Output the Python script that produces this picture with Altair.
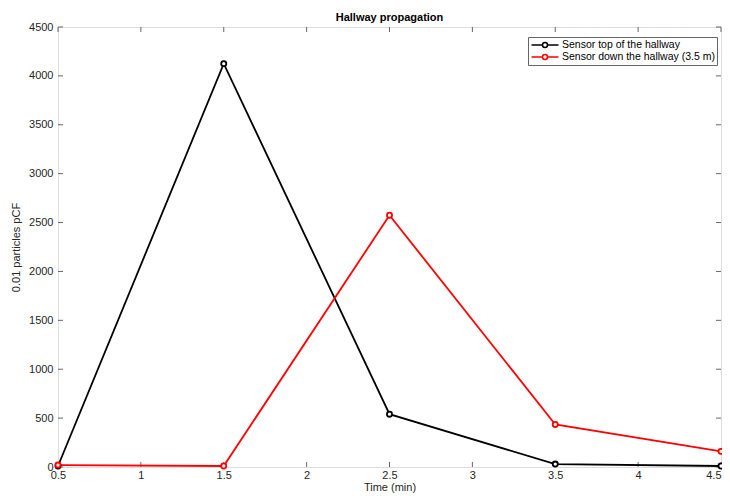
import altair as alt
import pandas as pd

# ---- data ----
times = [0.5, 1.5, 2.5, 3.5, 4.5]
top_sensor = [10, 4125, 540, 30, 10]
down_sensor = [20, 10, 2575, 435, 160]
series_names = ["Sensor top of the hallway", "Sensor down the hallway (3.5 m)"]
series_colors = ["#000000", "#ff0000"]
x_ticks = [0.5, 1, 1.5, 2, 2.5, 3, 3.5, 4, 4.5]
y_ticks = [0, 500, 1000, 1500, 2000, 2500, 3000, 3500, 4000, 4500]

df = pd.DataFrame({
    "time": times + times,
    "value": top_sensor + down_sensor,
    "series": [series_names[0]] * len(times) + [series_names[1]] * len(times),
})
xt = pd.DataFrame({"t": x_ticks})
yt = pd.DataFrame({"v": y_ticks})

W, H = 663, 440
FONT = "Liberation Sans"
FRAME = "#666666"
TICK = 5

xs = alt.Scale(domain=[0.5, 4.5], nice=False, zero=False)
ys = alt.Scale(domain=[0, 4500], nice=False, zero=True)

x_axis = alt.Axis(values=x_ticks, title="Time (min)", ticks=False, domain=False,
                  labelFontSize=11, titleFontSize=11, labelPadding=2, titlePadding=1,
                  titleFontWeight="normal", labelColor="#262626", titleColor="#262626",
                  grid=False, labelFlush=False, format="~g",
                  labelAlign={"condition": {"test": "datum.value == 4.5", "value": "right"},
                              "value": "center"})
y_axis = alt.Axis(values=y_ticks, title="0.01 particles pCF", ticks=False, domain=False,
                  labelFontSize=11, titleFontSize=11, labelPadding=5, titlePadding=7,
                  titleFontWeight="normal", labelColor="#262626", titleColor="#262626",
                  grid=False, format="d")

legend_path = ("M-2.7,0H-0.5 M0.5,0H2.7 "
               "M0.5,0A0.5,0.5 0 1,1 -0.5,0A0.5,0.5 0 1,1 0.5,0")

color = alt.Color("series:N",
                  scale=alt.Scale(domain=series_names, range=series_colors),
                  sort=series_names,
                  legend=alt.Legend(title=None, orient="none", legendX=470, legendY=10,
                                    symbolType=legend_path, symbolSize=100,
                                    symbolStrokeWidth=1.5, symbolFillColor="white",
                                    symbolOffset=9, labelOffset=11,
                                    labelFontSize=10.5, labelFont=FONT, labelColor="#000000",
                                    strokeColor=FRAME, fillColor="white",
                                    padding=2, rowPadding=0, labelLimit=300))

base = alt.Chart(df).encode(
    x=alt.X("time:Q", scale=xs, axis=x_axis),
    y=alt.Y("value:Q", scale=ys, axis=y_axis),
)

lines = base.mark_line(strokeWidth=1.8).encode(color=color)
points = base.mark_point(filled=False, size=26, strokeWidth=1.8, opacity=1).encode(
    color=alt.Color("series:N", scale=alt.Scale(domain=series_names, range=series_colors),
                    legend=None),
    fill=alt.value("white"))

xtick_bot = alt.Chart(xt).mark_rule(color=FRAME, strokeWidth=1).encode(
    x=alt.X("t:Q", scale=xs), y=alt.value(H), y2=alt.value(H - TICK))
xtick_top = alt.Chart(xt).mark_rule(color=FRAME, strokeWidth=1).encode(
    x=alt.X("t:Q", scale=xs), y=alt.value(0), y2=alt.value(TICK))
ytick_left = alt.Chart(yt).mark_rule(color=FRAME, strokeWidth=1).encode(
    y=alt.Y("v:Q", scale=ys), x=alt.value(0), x2=alt.value(TICK))
ytick_right = alt.Chart(yt).mark_rule(color=FRAME, strokeWidth=1).encode(
    y=alt.Y("v:Q", scale=ys), x=alt.value(W - TICK), x2=alt.value(W))

chart = alt.layer(xtick_bot, xtick_top, ytick_left, ytick_right, lines, points).properties(
    width=W, height=H,
    title=alt.Title("Hallway propagation", fontSize=11, fontWeight="bold", font=FONT,
                    color="#000000", offset=-1.5),
    autosize=alt.AutoSizeParams(type="none"),
    padding={"left": 50, "top": 19, "right": 1, "bottom": 30},
).configure_view(stroke=FRAME, strokeWidth=1).configure(font=FONT)

chart.save("out.html", embed_options={"renderer": "svg", "actions": False})
